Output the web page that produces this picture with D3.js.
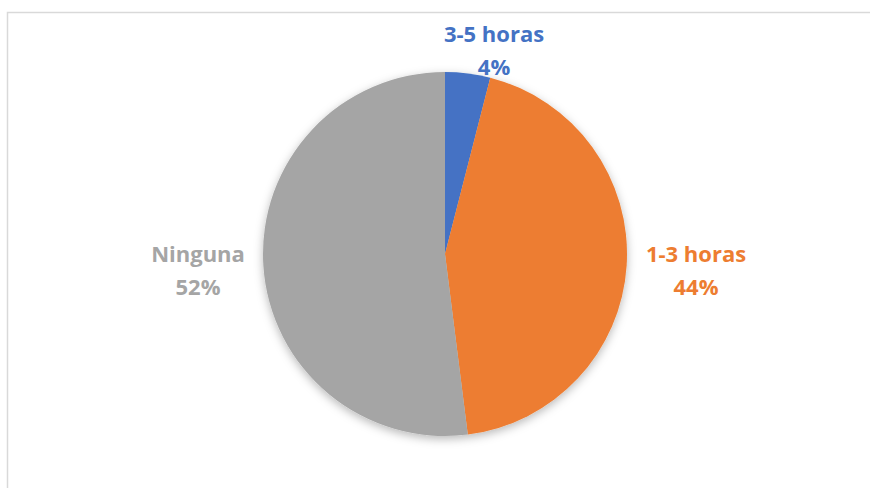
<!DOCTYPE html>
<html>
<head>
<meta charset="utf-8">
<script src="https://cdn.jsdelivr.net/npm/d3@7"></script>
<style>
  body { margin: 0; background: #fff; }
  svg { display: block; }
</style>
</head>
<body>
<div id="chart"></div>
<script>
// data
var categories = ["3-5 horas", "1-3 horas", "Ninguna"];
var values = [4, 44, 52];
var percentLabels = ["4%", "44%", "52%"];
var colors = ["#4472C4", "#ED7D31", "#A5A5A5"];

function pieChart(){
	var width = 870, height = 488;
	var cx = 445, cy = 254, r = 182;

	var svg = d3.select("#chart")
		.append("svg")
		.attr("width", width)
		.attr("height", height);

	// chart frame (cut off at right/bottom like the screenshot)
	svg.append("rect")
		.attr("x", 7.5)
		.attr("y", 12.5)
		.attr("width", width)
		.attr("height", height)
		.attr("fill", "none")
		.attr("stroke", "#d9d9d9")
		.attr("stroke-width", 1.5);

	// soft shadow under the pie
	var defs = svg.append("defs");
	var f = defs.append("filter")
		.attr("id", "shadow")
		.attr("x", "-20%").attr("y", "-20%")
		.attr("width", "140%").attr("height", "140%");
	f.append("feDropShadow")
		.attr("dx", 0)
		.attr("dy", 3)
		.attr("stdDeviation", 5)
		.attr("flood-color", "#000")
		.attr("flood-opacity", 0.28);

	var g = svg.append("g")
		.attr("transform", "translate(" + cx + "," + cy + ")");

	var pie = d3.pie().sort(null).value(d => d);
	var arcs = pie(values);
	var arc = d3.arc().innerRadius(0).outerRadius(r);

	g.append("g")
		.attr("filter", "url(#shadow)")
		.selectAll("path")
		.data(arcs)
		.enter().append("path")
		.attr("d", arc)
		.attr("fill", (d, i) => colors[i]);

	// data labels: offset of the label block (centre x, first baseline) from pie centre
	var labelPos = [
		{dx: 49, dy: -212},
		{dx: 251, dy: 8},
		{dx: -247, dy: 8}
	];

	var labels = g.selectAll("text.lbl")
		.data(arcs)
		.enter().append("text")
		.attr("class", "lbl")
		.attr("text-anchor", "middle")
		.attr("font-family", "'Open Sans', sans-serif")
		.attr("font-weight", "bold")
		.attr("font-size", 22)
		.attr("fill", (d, i) => colors[i])
		.attr("transform", (d, i) => "translate(" + labelPos[i].dx + "," + labelPos[i].dy + ")");

	labels.append("tspan")
		.attr("x", 0)
		.attr("y", 0)
		.text((d, i) => categories[i]);
	labels.append("tspan")
		.attr("x", 0)
		.attr("y", 33)
		.text((d, i) => percentLabels[i]);
}

pieChart();
</script>
</body>
</html>
